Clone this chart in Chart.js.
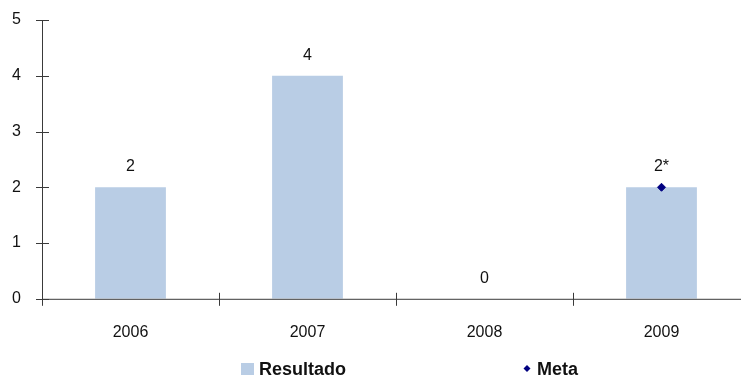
<!DOCTYPE html>
<html lang="es">

<head>
    <meta charset="UTF-8">
    <title>Resultado vs Meta</title>
    <script src="https://cdn.jsdelivr.net/npm/chart.js@4"></script>
    <style>
        body { margin: 0; overflow: hidden; background: #fff; }
    </style>
</head>

<body>
    <canvas id="myChart" width="760" height="377"></canvas>

    <script>
        // chart data
        var years = ['2006', '2007', '2008', '2009'];
        var resultado = [2, 4, 0, 2];
        var meta = [null, null, null, 2];
        var barLabels = ['2', '4', '0', '2*'];
        var yTicks = [0, 1, 2, 3, 4, 5];

        var axisColor = '#3a3a3a';
        var font = 'Liberation Sans, Arial, sans-serif';

        // axis lines with ticks that cross the line, plus value labels and legend
        var decorPlugin = {
            id: 'decor',
            afterDraw: function (chart) {
                var ctx = chart.ctx;
                var area = chart.chartArea;
                var x = chart.scales.x;
                var y = chart.scales.y;
                ctx.save();
                ctx.strokeStyle = axisColor;
                ctx.lineWidth = 1;

                // axes
                ctx.beginPath();
                ctx.moveTo(area.left + 0.5, area.top);
                ctx.lineTo(area.left + 0.5, area.bottom);
                ctx.moveTo(area.left, area.bottom + 0.5);
                ctx.lineTo(chart.width, area.bottom + 0.5);
                // y ticks
                y.ticks.forEach(function (t, i) {
                    var py = Math.round(y.getPixelForTick(i)) + 0.5;
                    ctx.moveTo(area.left - 6, py);
                    ctx.lineTo(area.left + 7, py);
                });
                // x ticks at category boundaries
                for (var i = 0; i <= years.length; i++) {
                    var px;
                    if (i === 0) px = area.left;
                    else if (i === years.length) px = area.right;
                    else px = (x.getPixelForValue(i - 1) + x.getPixelForValue(i)) / 2;
                    px = Math.round(px) + 0.5;
                    ctx.moveTo(px, area.bottom - 6);
                    ctx.lineTo(px, area.bottom + 7);
                }
                ctx.stroke();

                // value labels above bars
                ctx.fillStyle = '#111';
                ctx.font = '16px ' + font;
                ctx.textAlign = 'center';
                ctx.textBaseline = 'alphabetic';
                var bars = chart.getDatasetMeta(0).data;
                bars.forEach(function (bar, i) {
                    ctx.fillText(barLabels[i], bar.x, bar.y - 16);
                });

                // legend
                var ly = 375;
                ctx.fillStyle = '#B9CDE5';
                ctx.fillRect(241, 363, 13, 12);
                ctx.fillStyle = '#111';
                ctx.font = 'bold 18px ' + font;
                ctx.textAlign = 'left';
                ctx.fillText(chart.data.datasets[0].label, 259, ly);

                ctx.fillStyle = '#000080';
                ctx.beginPath();
                ctx.moveTo(527, 365);
                ctx.lineTo(530.5, 368.5);
                ctx.lineTo(527, 372);
                ctx.lineTo(523.5, 368.5);
                ctx.closePath();
                ctx.fill();
                ctx.fillStyle = '#111';
                ctx.fillText(chart.data.datasets[1].label, 537, ly);
                ctx.restore();
            }
        };

        function createChart() {
            var ctx = document.getElementById('myChart').getContext('2d');
            return new Chart(ctx, {
                type: 'bar',
                data: {
                    labels: years,
                    datasets: [{
                        label: 'Resultado',
                        data: resultado,
                        backgroundColor: '#B9CDE5',
                        borderWidth: 0,
                        categoryPercentage: 1,
                        barPercentage: 0.4,
                        order: 2
                    }, {
                        type: 'line',
                        label: 'Meta',
                        data: meta,
                        showLine: false,
                        pointStyle: 'rectRot',
                        pointRadius: 4,
                        backgroundColor: '#000080',
                        borderColor: '#000080',
                        order: 1
                    }]
                },
                options: {
                    responsive: false,
                    animation: false,
                    layout: { padding: { left: 0, right: 10, top: 20, bottom: 11 } },
                    plugins: {
                        legend: { display: false },
                        tooltip: { enabled: false }
                    },
                    scales: {
                        x: {
                            grid: { display: false, drawTicks: false, offset: true },
                            border: { display: false },
                            ticks: {
                                color: '#111',
                                padding: 24,
                                font: { family: font, size: 16 }
                            }
                        },
                        y: {
                            min: yTicks[0],
                            max: yTicks[yTicks.length - 1],
                            afterFit: function (scale) {
                                scale.width = 42;
                                scale.paddingTop = 0;
                                scale.paddingBottom = 0;
                            },
                            afterBuildTicks: function (scale) {
                                scale.ticks = yTicks.map(function (v) { return { value: v }; });
                            },
                            grid: { display: false, drawTicks: false },
                            border: { display: false },
                            ticks: {
                                color: '#111',
                                padding: 21,
                                font: { family: font, size: 16 }
                            }
                        }
                    }
                },
                plugins: [decorPlugin]
            });
        }

        createChart();
    </script>
</body>

</html>
